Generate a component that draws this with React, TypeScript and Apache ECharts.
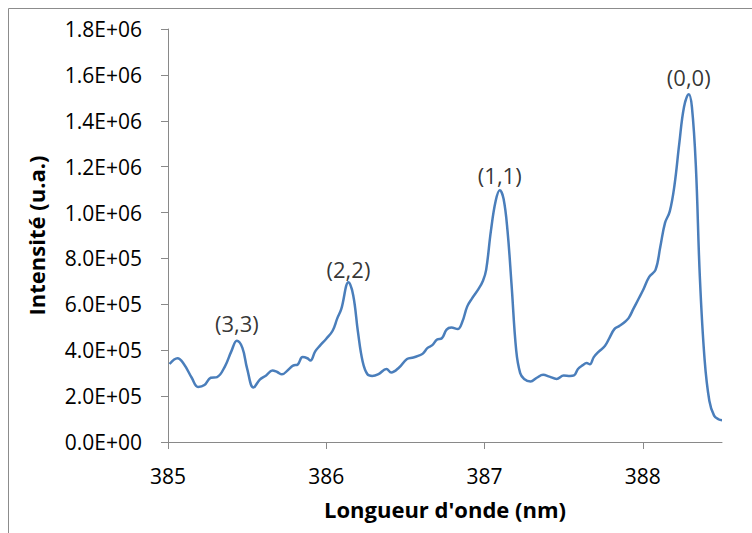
import React, { useEffect, useRef } from "react";
import * as echarts from "echarts";

const wavelengths: number[] = [
  385.01, 385.06, 385.10, 385.15, 385.19, 385.23, 385.27, 385.31, 385.36, 385.40,
  385.435, 385.47, 385.50, 385.54, 385.58, 385.62, 385.66, 385.69, 385.72, 385.76,
  385.79, 385.82, 385.85, 385.88, 385.90, 385.93, 385.96, 386.00, 386.04, 386.07,
  386.095, 386.14, 386.17, 386.20, 386.23, 386.26, 386.29, 386.33, 386.38, 386.41,
  386.46, 386.51, 386.55, 386.58, 386.61, 386.64, 386.67, 386.70, 386.73, 386.76,
  386.79, 386.83, 386.86, 386.89, 386.92, 386.96, 386.99, 387.01, 387.04, 387.07,
  387.096, 387.12, 387.145, 387.17, 387.20, 387.225, 387.25, 387.29, 387.33, 387.37,
  387.41, 387.455, 387.50, 387.54, 387.565, 387.59, 387.62, 387.645, 387.665, 387.69,
  387.72, 387.76, 387.79, 387.82, 387.85, 387.88, 387.91, 387.94, 387.97, 388.00,
  388.04, 388.08, 388.11, 388.14, 388.17, 388.20, 388.23, 388.26, 388.29, 388.31,
  388.335, 388.36, 388.39, 388.42, 388.45, 388.48, 388.50,
];

const intensities: number[] = [
  340000, 365000, 340000, 280000, 240000, 248000, 280000, 283000, 330000, 395000,
  441000, 410000, 320000, 237000, 272000, 290000, 312000, 305000, 295000, 315000,
  333000, 338000, 370000, 365000, 355000, 395000, 420000, 450000, 485000, 540000,
  580000, 696000, 640000, 480000, 350000, 295000, 288000, 296000, 318000, 303000,
  325000, 362000, 368000, 375000, 385000, 410000, 422000, 447000, 452000, 490000,
  499000, 492000, 525000, 590000, 625000, 665000, 703000, 750000, 920000, 1050000,
  1097000, 1060000, 920000, 690000, 398000, 300000, 275000, 264000, 280000, 293000,
  285000, 275000, 290000, 288000, 290000, 318000, 335000, 344000, 339000, 370000,
  393000, 418000, 455000, 492000, 505000, 520000, 540000, 580000, 620000, 660000,
  720000, 750000, 850000, 955000, 1005000, 1120000, 1300000, 1460000, 1516000, 1460000,
  1200000, 720000, 360000, 180000, 115000, 98000, 95000,
];

const bandLabels: string[] = ["(3,3)", "(2,2)", "(1,1)", "(0,0)"];
const bandWavelengths: number[] = [385.435, 386.14, 387.096, 388.29];
const bandIntensities: number[] = [441000, 696000, 1097000, 1516000];

const xTicks: number[] = [385, 386, 387, 388];

const fmtSci = (v: number): string => {
  const s = v.toExponential(1);
  const [m, e] = s.split("e");
  const sign = e[0] === "-" ? "-" : "+";
  const digits = e.replace(/[+-]/, "").padStart(2, "0");
  return `${m}E${sign}${digits}`;
};

export default function App() {
  const ref = useRef<HTMLDivElement>(null);
  useEffect(() => {
    if (!ref.current) return;
    const chart = echarts.init(ref.current, undefined, { renderer: "svg" });
    const font = "Open Sans";
    const axisColor = "#898989";
    const labelDistances = [7, 2, 4, 6];
    chart.setOption({
      animation: false,
      backgroundColor: "#ffffff",
      grid: { left: 168, right: 30, top: 29, bottom: 91 },
      graphic: [
        { type: "line", shape: { x1: 8.5, y1: 8.5, x2: 8.5, y2: 540 }, style: { stroke: "#8c8c8c", lineWidth: 1 } },
        { type: "line", shape: { x1: 8.5, y1: 8.5, x2: 760, y2: 8.5 }, style: { stroke: "#8c8c8c", lineWidth: 1 } },
      ],
      xAxis: {
        type: "value",
        min: 385,
        max: 388.5,
        interval: 1,
        name: "Longueur d'onde (nm)",
        nameLocation: "middle",
        nameGap: 56,
        nameTextStyle: { fontFamily: font, fontWeight: "bold", fontSize: 22, color: "#000" },
        axisLine: { show: true, lineStyle: { color: axisColor, width: 1 } },
        axisTick: { show: true, length: 7, lineStyle: { color: axisColor }, customValues: xTicks },
        axisLabel: {
          fontFamily: font,
          fontSize: 21,
          color: "#000",
          margin: 23,
          customValues: xTicks,
          formatter: (v: number) => (Number.isInteger(v) ? String(v) : ""),
        },
        splitLine: { show: false },
      },
      yAxis: {
        type: "value",
        min: 0,
        max: 1800000,
        interval: 200000,
        name: "Intensité (u.a.)",
        nameLocation: "middle",
        nameGap: 121,
        nameRotate: 90,
        nameTextStyle: { fontFamily: font, fontWeight: "bold", fontSize: 22, color: "#000" },
        axisLine: { show: true, lineStyle: { color: axisColor, width: 1 } },
        axisTick: { show: true, length: 7, lineStyle: { color: axisColor } },
        axisLabel: {
          fontFamily: font,
          fontSize: 21,
          color: "#000",
          margin: 26,
          formatter: (v: number) => fmtSci(v),
        },
        splitLine: { show: false },
      },
      series: [
        {
          type: "line",
          data: wavelengths.map((w, i) => [w, intensities[i]]),
          smooth: 0.4,
          showSymbol: false,
          symbol: "none",
          lineStyle: { color: "#4a7ebb", width: 2.5 },
          z: 2,
        },
        {
          type: "scatter",
          symbolSize: 0,
          silent: true,
          data: bandLabels.map((l, i) => ({
            value: [bandWavelengths[i], bandIntensities[i]],
            name: l,
            label: { distance: labelDistances[i] },
          })),
          label: {
            show: true,
            position: "top",
            formatter: (p: any) => p.name,
            fontFamily: font,
            fontSize: 22,
            color: "#000",
          },
          z: 3,
        },
      ],
    });
    return () => chart.dispose();
  }, []);
  return (
    <div
      ref={ref}
      style={{ position: "fixed", left: 0, top: 0, width: 752, height: 533, background: "#fff" }}
    />
  );
}
